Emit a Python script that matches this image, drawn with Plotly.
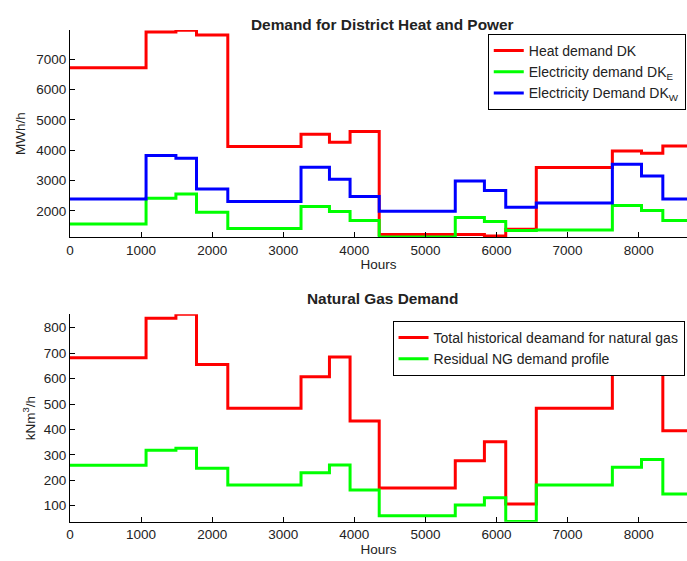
import plotly.graph_objects as go
from plotly.subplots import make_subplots

# Segment boundaries in hours over the year
hours = [0, 1070, 1490, 1780, 2220, 3250, 3650, 3940, 4350,
         5420, 5830, 6130, 6560, 7630, 8040, 8340, 8760]

# Demand per segment (MWh/h)
heat_dk = [6720, 7900, 7957, 7800, 4120, 4527, 4264, 4615,
           1219, 1219, 1176, 1396, 3428, 3978, 3902, 4143]
elec_dk_e = [1571, 2419, 2560, 1956, 1417, 2143, 1978, 1681,
             1140, 1780, 1648, 1352, 1374, 2176, 2011, 1681]
elec_dk_w = [2396, 3824, 3737, 2725, 2307, 3440, 3045, 2473,
             1990, 2989, 2670, 2121, 2264, 3540, 3154, 2396]

# Natural gas demand per segment (kNm3/h)
ng_total = [682, 837, 853, 655, 483, 607, 685, 433,
            170, 277, 352, 107, 483, 665, 740, 395]
ng_residual = [259, 318, 326, 247, 181, 230, 260, 162,
               61, 103, 131, 38, 181, 251, 282, 146]

x_ticks = [0, 1000, 2000, 3000, 4000, 5000, 6000, 7000, 8000]
power_ticks = [2000, 3000, 4000, 5000, 6000, 7000]
gas_ticks = [100, 200, 300, 400, 500, 600, 700, 800]

FONT = "Liberation Sans, Arial, sans-serif"
INK = "#222222"

fig = make_subplots(rows=2, cols=1)


def steps(values):
    return values + [values[-1]]


def add_series(values, name, color, row, legend):
    fig.add_trace(go.Scatter(
        x=hours, y=steps(values), mode="lines", line_shape="hv",
        line=dict(color=color, width=3), name=name, legend=legend),
        row=row, col=1)


add_series(heat_dk, "Heat demand DK", "#ff0000", 1, "legend")
add_series(elec_dk_e, "Electricity demand DK<sub>E</sub>", "#00ff00", 1, "legend")
add_series(elec_dk_w, "Electricity Demand DK<sub>W</sub>", "#0000ff", 1, "legend")
add_series(ng_total, "Total historical deamand for natural gas", "#ff0000", 2, "legend2")
add_series(ng_residual, "Residual NG demand profile", "#00ff00", 2, "legend2")

axis_style = dict(showline=True, linecolor="black", linewidth=1,
                  ticks="inside", ticklen=5, tickcolor="black",
                  showgrid=False, zeroline=False,
                  tickfont=dict(family=FONT, size=13.5, color=INK))
title_font = dict(family=FONT, size=13.5, color=INK)

fig.update_xaxes(**axis_style, range=[0, 8680], tickvals=x_ticks,
                 domain=[0, 1])
fig.update_xaxes(title=dict(text="Hours", standoff=1, font=title_font))
fig.update_yaxes(**axis_style)

fig.update_yaxes(row=1, col=1, range=[1130, 7965], tickvals=power_ticks,
                 domain=[0.577, 0.9465],
                 title=dict(text="MWh/h", standoff=7, font=title_font))
fig.update_yaxes(row=2, col=1, range=[37, 853], tickvals=gas_ticks,
                 domain=[0.070, 0.4398],
                 title=dict(text="kNm<sup>3</sup>/h", standoff=5,
                            font=title_font))

legend_style = dict(bordercolor="black", borderwidth=1, bgcolor="white",
                    font=dict(family=FONT, size=14, color=INK),
                    xanchor="right", yanchor="top", tracegroupgap=0,
                    itemwidth=30)

fig.update_layout(
    width=687, height=561,
    margin=dict(l=70, r=0, t=0, b=0),
    paper_bgcolor="white", plot_bgcolor="white",
    font=dict(family=FONT, size=13.5, color=INK),
    legend=dict(**legend_style, x=0.998, y=1 - 34 / 561),
    legend2=dict(**legend_style, x=0.996, y=1 - 321 / 561),
    annotations=[
        dict(text="<b>Demand for District Heat and Power</b>", xref="paper",
             yref="paper", x=0.506, y=1 - 14 / 561, showarrow=False,
             font=dict(family=FONT, size=15.4, color=INK)),
        dict(text="<b>Natural Gas Demand</b>", xref="paper", yref="paper",
             x=0.506, y=1 - 298 / 561, showarrow=False,
             font=dict(family=FONT, size=15.4, color=INK)),
    ],
)

fig.write_html("out.html")
